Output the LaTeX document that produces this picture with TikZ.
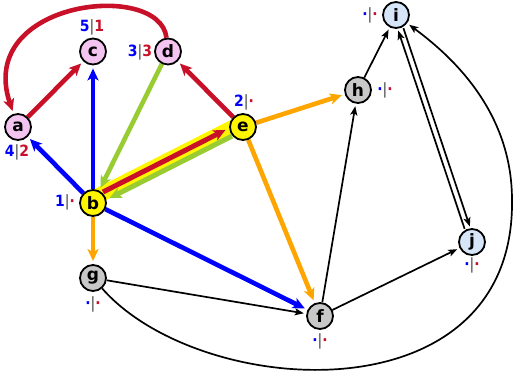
\documentclass[tikz,border=0pt]{standalone}
\usepackage{fontspec}
\setmainfont{DejaVu Sans}
\newfontfamily\lblfont{DejaVu Sans Condensed}
\usetikzlibrary{arrows.meta,backgrounds}
\definecolor{pinkn}{RGB}{243,196,240}
\definecolor{grayn}{RGB}{200,200,200}
\definecolor{bluen}{RGB}{214,230,248}
\definecolor{yellown}{RGB}{255,245,0}
\definecolor{redE}{RGB}{200,16,40}
\definecolor{blueE}{RGB}{0,0,255}
\definecolor{greenE}{RGB}{153,204,51}
\definecolor{orangeE}{RGB}{255,165,0}
\definecolor{barc}{RGB}{60,60,60}
\newcommand{\lbl}[2]{{\lblfont\bfseries\textcolor{blueE}{#1}\textcolor{barc}{\mdseries|}\textcolor{redE}{#2}}}
\begin{document}
\begin{tikzpicture}[x=1pt,y=-1pt,
  vtx/.style={circle,draw=black,line width=1.8pt,minimum size=26pt,inner sep=0pt,
    font=\fontsize{17}{17}\selectfont\bfseries},
  pk/.style={vtx,fill=pinkn},
  gy/.style={vtx,fill=grayn},
  lb/.style={vtx,fill=bluen},
  yl/.style={vtx,fill=yellown},
  tag/.style={inner sep=0pt,font=\fontsize{15.5}{15.5}\selectfont},
  col/.style={line width=4.6pt,shorten >=3pt,-{Stealth[length=12pt,width=11pt,inset=3pt]}},
  blk/.style={line width=1.7pt,shorten >=2.5pt,-{Stealth[length=9pt,width=7pt,inset=2pt]}}
]
\useasboundingbox (0,0) rectangle (514,374);
\node[pk] (a) at (18,127) {a};
\node[pk] (c) at (93,51.5) {c};
\node[pk] (d) at (168,51.5) {d};
\node[yl] (e) at (243,127) {e};
\node[yl] (b) at (93,203) {b};
\node[gy] (g) at (93,278) {g};
\node[gy] (f) at (320,316) {f};
\node[gy] (h) at (358,90) {h};
\node[lb] (i) at (396,15) {i};
\node[lb] (j) at (472,242) {j};
% labels
\node[tag] (la) at (17,152) {\lbl{4}{2}};
\node[tag] (lc) at (92,27) {\lbl{5}{1}};
\node[tag] (ld) at (140,52) {\lbl{3}{3}};
\node[tag] (le) at (244,102) {\lbl{2}{·}};
\node[tag] (lbb) at (65,202) {\lbl{1}{·}};
\node[tag] (lg) at (93,304) {\lbl{·}{·}};
\node[tag] (lf) at (320,341) {\lbl{·}{·}};
\node[tag] (lh) at (385,90) {\lbl{·}{·}};
\node[tag] (li) at (370,15) {\lbl{·}{·}};
\node[tag] (lj) at (472,265) {\lbl{·}{·}};
\begin{scope}[on background layer]
  \draw[yellown,line width=15pt,transform canvas={shift={(-1.9,-3.8)}}] (b.center) -- (e.center);
  % red
  \draw[col,redE] (a) -- (c);
  \draw[col,redE] (e) -- (d);
  \draw[col,redE,line width=5pt,transform canvas={shift={(-2.4,-4.7)}}] (b) -- (e);
  \draw[col,redE] (d) .. controls (160,-20) and (-25,0) .. (a);
  % green
  \draw[col,greenE,line width=5pt,transform canvas={shift={(1.4,2.8)}}] (e) -- (b);
  \draw[col,greenE] (d) -- (b);
  % blue
  \draw[col,blueE] (b) -- (a);
  \draw[col,blueE] (b) -- (c);
  \draw[col,blueE] (b) -- (f);
  % orange
  \draw[col,orangeE] (b) -- (g);
  \draw[col,orangeE] (e) -- (h);
  \draw[col,orangeE] (e) -- (f);
  % black
  \draw[blk] (g) -- (f);
  \draw[blk] (f) -- (h);
  \draw[blk] (f) -- (j);
  \draw[blk] (h) -- (i);
  \draw[blk,transform canvas={xshift=-3pt}] (j) -- (i);
  \draw[blk,transform canvas={xshift=3pt}] (i) -- (j);
  \draw[blk] (g) .. controls (200,400) and (515,420) .. (512,200)
                 .. controls (512,110) and (450,55) .. (i);
\end{scope}
\end{tikzpicture}
\end{document}
